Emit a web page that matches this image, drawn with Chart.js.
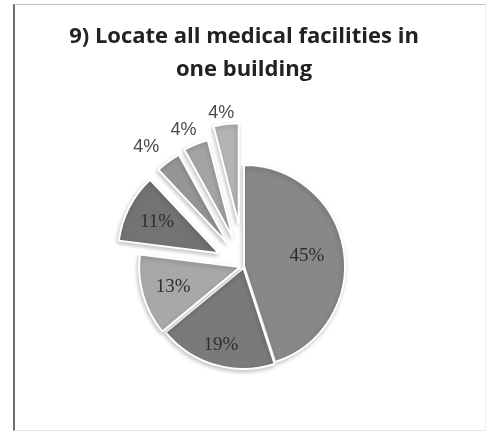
<!DOCTYPE html>
<html>
<head>
<meta charset="utf-8">
<script src="https://cdn.jsdelivr.net/npm/chart.js@4.4.1/dist/chart.umd.min.js"></script>
<style>
  html, body { margin: 0; padding: 0; background: #fff; }
  #wrap { position: relative; width: 488px; height: 432px; overflow: hidden; }
  #pie { position: absolute; left: 0; top: 0; }
  #frame {
    position: absolute; left: 13px; top: 4px; width: 470px; height: 425px;
    border-left: 2px solid #6f6f6f; border-top: 1px solid #c4c4c4;
    border-right: 1px solid #ececec; border-bottom: 1px solid #e4e4e4;
    pointer-events: none;
  }
</style>
</head>
<body>
<div id="wrap">
  <canvas id="pie" width="488" height="432"></canvas>
  <div id="frame"></div>
</div>
<script>
// answers, clockwise from 12 o'clock
const sliceLabels = ['45%', '19%', '13%', '11%', '4%', '4%', '4%'];
const sliceValues = [45, 19, 13, 11, 4, 4, 4];

const sliceColors = ['#888888', '#7a7a7a', '#a8a8a8', '#737373', '#969696', '#a4a4a4', '#b4b4b4'];
// how far each slice is pulled out from the centre, px
const pullOut = [0, 2, 4, 28, 28, 30, 42];
// label distance from the slice tip, as a share of the radius
const labelDist = [0.63, 0.8, 0.69, 0.69, 1.25, 1.18, 1.12];
// small turn of the outside labels, radians (negative = anticlockwise)
const labelTurn = [0, 0, 0, 0, -0.07, -0.05, -0.03];

const RADIUS = 101;

// explode slices by moving each arc along its mid angle
// (the built-in offset also shrinks and narrows thin slices)
const explode = {
    id: 'explode',
    afterDatasetUpdate(chart, args) {
        args.meta.data.forEach((arc, i) => {
            const mid = (arc.startAngle + arc.endAngle) / 2;
            arc.x += Math.cos(mid) * pullOut[i];
            arc.y += Math.sin(mid) * pullOut[i];
        });
    }
};

// soft shadow under the pie
const pieShadow = {
    id: 'pieShadow',
    beforeDatasetsDraw(chart) {
        const c = chart.ctx;
        c.save();
        c.shadowColor = 'rgba(0, 0, 0, 0.22)';
        c.shadowBlur = 4;
        c.shadowOffsetX = -1;
        c.shadowOffsetY = 2;
    },
    afterDatasetsDraw(chart) {
        chart.ctx.restore();
    }
};

const sliceText = {
    id: 'sliceText',
    afterDatasetsDraw(chart) {
        const c = chart.ctx;
        const arcs = chart.getDatasetMeta(0).data;
        c.save();
        c.textAlign = 'center';
        c.textBaseline = 'middle';
        arcs.forEach((arc, i) => {
            const mid = (arc.startAngle + arc.endAngle) / 2 + labelTurn[i];
            const d = RADIUS * labelDist[i];
            const x = arc.x + Math.cos(mid) * d;
            const y = arc.y + Math.sin(mid) * d;
            if (labelDist[i] > 1) {
                c.font = '18px "Liberation Sans", sans-serif';
                c.fillStyle = '#4a4a4a';
            } else {
                c.font = '19px "Liberation Serif", serif';
                c.fillStyle = '#2e2e2e';
            }
            c.fillText(sliceLabels[i], x, y);
        });
        c.restore();
    }
};

const ctx = document.getElementById('pie').getContext('2d');
new Chart(ctx, {
    type: 'pie',
    data: {
        labels: sliceLabels,
        datasets: [{
            data: sliceValues,
            backgroundColor: sliceColors,
            borderColor: '#ffffff',
            borderWidth: 2
        }]
    },
    options: {
        responsive: false,
        animation: false,
        radius: RADIUS,
        layout: { padding: 0 },
        plugins: {
            legend: { display: false },
            tooltip: { enabled: false },
            title: {
                display: true,
                text: ['9) Locate all medical facilities in', 'one building'],
                color: '#222222',
                font: { family: '"Open Sans", sans-serif', size: 22, weight: 'bold', lineHeight: 1.5 },
                padding: { top: 20, bottom: 14 }
            }
        }
    },
    plugins: [explode, pieShadow, sliceText]
});
</script>
</body>
</html>
